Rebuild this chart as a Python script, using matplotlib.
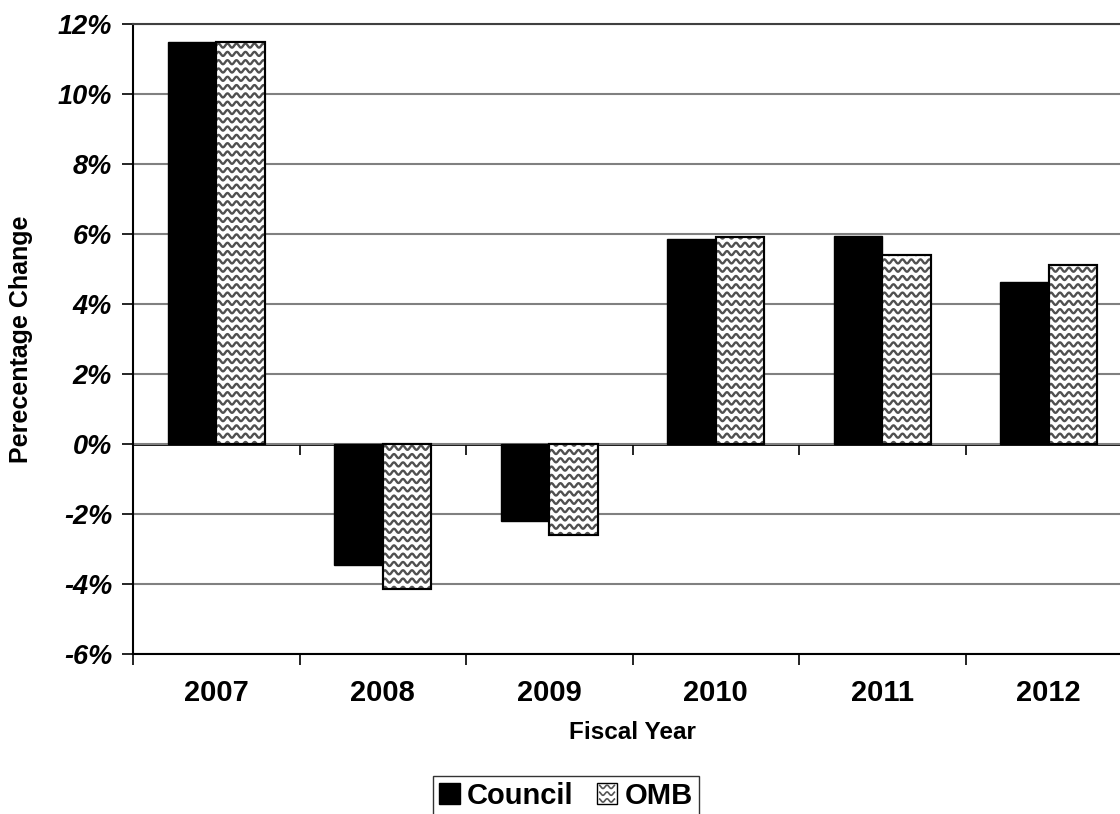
import numpy as np
import matplotlib
matplotlib.use("Agg")
import matplotlib.pyplot as plt
from matplotlib.collections import LineCollection
from matplotlib.legend_handler import HandlerPatch
from matplotlib.patches import Rectangle

plt.rcParams['font.family'] = ['Liberation Sans', 'DejaVu Sans']
plt.rcParams['font.weight'] = 'bold'

years = ['2007', '2008', '2009', '2010', '2011', '2012']
council = [11.5, -3.45, -2.2, 5.86, 5.94, 4.62]
omb = [11.5, -4.14, -2.6, 5.92, 5.41, 5.12]
yticks = [-6, -4, -2, 0, 2, 4, 6, 8, 10, 12]

W, H = 1120, 814
fig = plt.figure(figsize=(W / 100, H / 100), dpi=100)
ax = fig.add_axes([133 / W, 160 / H, 999 / W, 630 / H])

x = np.arange(len(years))
bw = 0.29
ax.set_xlim(-0.5, len(years) - 0.5)
ax.set_ylim(yticks[0], yticks[-1])

b1 = ax.bar(x - bw / 2, council, bw, color='black', edgecolor='black', lw=1, zorder=3, label='Council')
b2 = ax.bar(x + bw / 2, omb, bw, color='white', edgecolor='black', lw=1.5, zorder=3, label='OMB')

# wavy fill pattern for the OMB bars, sized in pixels
px_x = 1 / 166.6
px_y = 18 / 630
period, amp, gap = 9 * px_x, 2.0 * px_y, 8.3 * px_y
for bar in b2:
    x0, y0 = bar.get_x(), bar.get_y()
    w, h = bar.get_width(), bar.get_height()
    ylo, yhi = min(y0, y0 + h), max(y0, y0 + h)
    xs = np.linspace(x0 - period, x0 + w + period, 200)
    segs = []
    for r in np.arange(ylo - gap, yhi + gap, gap):
        segs.append(np.column_stack([xs, r + amp * np.sin(2 * np.pi * (xs - x0) / period)]))
    lc = LineCollection(segs, colors='#505050', linewidths=1.7, zorder=4)
    ax.add_collection(lc)
    lc.set_clip_path(bar)
    edge = Rectangle((x0, y0), w, h, fill=False, edgecolor='black', lw=1.5, zorder=5)
    ax.add_patch(edge)

# axes styling
ax.set_yticks(yticks)
ax.set_yticklabels([f'{v}%' for v in yticks], fontsize=19.5, fontstyle='italic', fontweight='bold')
ax.tick_params(axis='y', length=8, width=1.2, pad=7, direction='out')
ax.grid(axis='y', color='#808080', lw=1.5, zorder=0)
ax.set_axisbelow(True)

ax.set_xticks(x)
ax.set_xticklabels(years, fontsize=21, fontweight='bold')
ax.set_xticks(np.arange(len(years) + 1) - 0.5, minor=True)
ax.tick_params(axis='x', which='major', length=0, pad=18)
ax.tick_params(axis='x', which='minor', length=8, width=1.2, direction='out')

for s in ['left', 'bottom']:
    ax.spines[s].set_color('black')
    ax.spines[s].set_linewidth(1.5)
ax.spines['top'].set_color('#404040')
ax.spines['top'].set_linewidth(1.5)
ax.spines['right'].set_visible(False)

# category axis crossing at zero
zero_pos = (0 - yticks[0]) / (yticks[-1] - yticks[0])
sec = ax.secondary_xaxis(zero_pos)
sec.set_xticks(np.arange(len(years) + 1) - 0.5)
sec.set_xticklabels([])
sec.tick_params(length=8, width=1.2, direction='out')
sec.spines['bottom'].set_linewidth(2)
sec.spines['bottom'].set_color('black')

ax.set_xlabel('Fiscal Year', fontsize=17.5, fontweight='bold', labelpad=10)
ax.set_ylabel('Perecentage Change', fontsize=18, fontweight='bold', labelpad=18)


class WaveHandler(HandlerPatch):
    def create_artists(self, legend, orig_handle, xdescent, ydescent, width, height, fontsize, trans):
        rect = Rectangle((-xdescent, -ydescent), width, height, facecolor='white',
                         edgecolor='black', lw=1, transform=trans)
        xs = np.linspace(-xdescent + 1.5, -xdescent + width - 1.5, 40)
        segs = []
        for k in range(3):
            yc = -ydescent + height * (k + 0.5) / 3
            segs.append(np.column_stack([xs, yc + 1.2 * np.sin(2 * np.pi * (xs + xdescent) / (width / 2.5))]))
        lc = LineCollection(segs, colors='#555555', linewidths=1.2, transform=trans)
        return [rect, lc]


leg = fig.legend(handles=[b1.patches[0], b2.patches[0]], labels=['Council', 'OMB'],
                 loc='upper center', bbox_to_anchor=(566 / W, (H - 776) / H),
                 ncol=2, frameon=True, fancybox=False, edgecolor='black',
                 handlelength=0.7, handleheight=0.7, handletextpad=0.25, columnspacing=0.8,
                 borderpad=0.2, borderaxespad=0,
                 handler_map={b2.patches[0]: WaveHandler()},
                 prop={'weight': 'bold', 'size': 21})
leg.get_frame().set_linewidth(1)

fig.savefig('out.png', dpi=100)
